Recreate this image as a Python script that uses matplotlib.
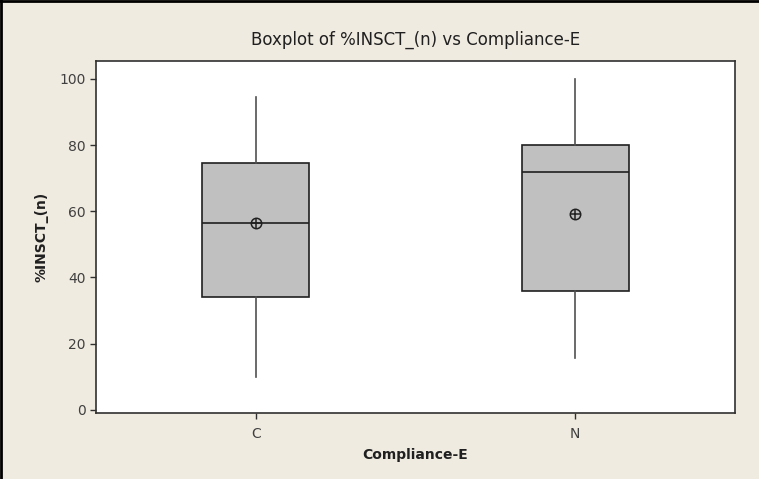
import matplotlib
matplotlib.use("Agg")
import matplotlib.pyplot as plt
from matplotlib.lines import Line2D

categories = ["C", "N"]
whislo = [10.0, 15.7]
q1 = [34.2, 35.8]
med = [56.3, 71.7]
q3 = [74.6, 80.1]
whishi = [94.6, 100.0]
means = [56.3, 59.3]
yticks = [0, 20, 40, 60, 80, 100]

W, H = 759, 479
fig = plt.figure(figsize=(W / 100, H / 100), dpi=100)
bg = "#f0ebe1"
fig.patch.set_facecolor(bg)

ax = fig.add_axes([96 / W, 1 - 413 / H, (735 - 96) / W, (413 - 61) / H])
ax.set_facecolor("white")

stats = []
for i, c in enumerate(categories):
    stats.append(dict(label=c, whislo=whislo[i], q1=q1[i], med=med[i],
                      q3=q3[i], whishi=whishi[i], mean=means[i], fliers=[]))

ax.bxp(stats, positions=[1, 2], widths=0.335, patch_artist=True,
       showcaps=False, showmeans=False, showfliers=False,
       boxprops=dict(facecolor="#c0c0c0", edgecolor="#202020", linewidth=1.2),
       medianprops=dict(color="#202020", linewidth=1.2),
       whiskerprops=dict(color="#505050", linewidth=1.2))

ax.plot([1, 2], means, linestyle="none", marker="o", markersize=7.5,
        markerfacecolor="none", markeredgecolor="#202020", markeredgewidth=1.1, zorder=5)
ax.plot([1, 2], means, linestyle="none", marker="+", markersize=7.5,
        markeredgecolor="#202020", markeredgewidth=1.1, zorder=5)

ax.set_xlim(0.5, 2.5)
ax.set_ylim(-1, 105.4)
ax.set_yticks(yticks)
ax.set_xticks([1, 2])
ax.set_xticklabels(categories)

for s in ax.spines.values():
    s.set_color("#303030")
    s.set_linewidth(1.2)

ax.tick_params(axis="both", colors="#303030", labelcolor="#404040",
               labelsize=10, length=4, width=1)
ax.tick_params(axis="x", pad=6)

ax.set_xlabel("Compliance-E", fontsize=10, fontweight="bold", color="#202020", labelpad=5)
ax.set_ylabel("%INSCT_(n)", fontsize=10, fontweight="bold", color="#202020", labelpad=8)

fig.text(0.5 * (96 + 735) / W, 1 - 40 / H, "Boxplot of %INSCT_(n) vs Compliance-E",
         ha="center", va="center", fontsize=12, color="#202020")

# figure border (left and top)
fig.add_artist(Line2D([1 / W, 1 / W], [0, 1], color="black", linewidth=2, transform=fig.transFigure))
fig.add_artist(Line2D([0, 1], [1 - 1 / H, 1 - 1 / H], color="black", linewidth=2, transform=fig.transFigure))

fig.savefig("out.png", dpi=100, facecolor=bg)
